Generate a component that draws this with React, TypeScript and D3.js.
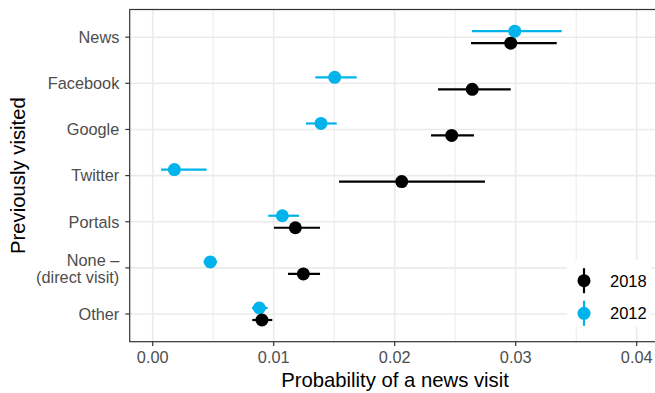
import React, { useEffect, useRef } from "react";
import { select, scaleLinear, scalePoint, range } from "d3";

const categories = ["News", "Facebook", "Google", "Twitter", "Portals", "None –\n(direct visit)", "Other"];
const years = ["2018", "2012"];

// estimate, lower, upper
const est2018 = [0.02959, 0.02641, 0.02471, 0.02058, 0.01179, 0.01245, 0.00903];
const lo2018 = [0.02631, 0.02358, 0.023, 0.0154, 0.01002, 0.01118, 0.00823];
const hi2018 = [0.03339, 0.02959, 0.02655, 0.02746, 0.01383, 0.01383, 0.00988];

const est2012 = [0.02992, 0.01504, 0.01391, 0.00179, 0.01071, 0.00476, 0.00881];
const lo2012 = [0.02639, 0.01344, 0.01267, 0.00069, 0.00955, 0.0042, 0.0082];
const hi2012 = [0.0338, 0.01686, 0.01521, 0.00446, 0.01209, 0.00533, 0.0095];

const xTicks = [0, 0.01, 0.02, 0.03, 0.04];
const xTickLabels = ["0.00", "0.01", "0.02", "0.03", "0.04"];

const colors = { "2018": "#000000", "2012": "#00B4EB" };

function Chart() {
  const svgRef = useRef(null);
  const width = 655,
    height = 393;
  const panel = { left: 129.7, right: 656, top: 9.5, bottom: 341.7 };

  useEffect(() => {
    const svg = select(svgRef.current);
    svg.selectAll("*").remove();
    const font = "'Liberation Sans', Arial, Helvetica, sans-serif";

    const x = scaleLinear().domain([0, 0.04]).range([152.7, 636.7]);
    const y = scalePoint().domain(categories).range([panel.top, panel.bottom]).padding(0.6);

    const g = svg.append("g");
    g.append("rect")
      .attr("x", panel.left)
      .attr("y", panel.top)
      .attr("width", panel.right - panel.left)
      .attr("height", panel.bottom - panel.top)
      .attr("fill", "#fff");

    // minor grid
    const minor = range(0.005, 0.045, 0.01);
    g.selectAll(".minor")
      .data(minor)
      .join("line")
      .attr("x1", (d) => x(d))
      .attr("x2", (d) => x(d))
      .attr("y1", panel.top)
      .attr("y2", panel.bottom)
      .attr("stroke", "#EBEBEB")
      .attr("stroke-width", 1);

    g.selectAll(".vmajor")
      .data(xTicks)
      .join("line")
      .attr("x1", (d) => x(d))
      .attr("x2", (d) => x(d))
      .attr("y1", panel.top)
      .attr("y2", panel.bottom)
      .attr("stroke", "#EBEBEB")
      .attr("stroke-width", 1.6);

    g.selectAll(".hmajor")
      .data(categories)
      .join("line")
      .attr("x1", panel.left)
      .attr("x2", panel.right)
      .attr("y1", (d) => y(d))
      .attr("y2", (d) => y(d))
      .attr("stroke", "#EBEBEB")
      .attr("stroke-width", 1.6);

    const series = [
      { year: "2012", est: est2012, lo: lo2012, hi: hi2012, off: -6 },
      { year: "2018", est: est2018, lo: lo2018, hi: hi2018, off: 6 },
    ];

    series.forEach((s) => {
      const sg = g.append("g");
      sg.selectAll("line")
        .data(categories)
        .join("line")
        .attr("x1", (d, i) => x(s.lo[i]))
        .attr("x2", (d, i) => x(s.hi[i]))
        .attr("y1", (d) => y(d) + s.off)
        .attr("y2", (d) => y(d) + s.off)
        .attr("stroke", colors[s.year])
        .attr("stroke-width", 2.2);
      sg.selectAll("circle")
        .data(categories)
        .join("circle")
        .attr("cx", (d, i) => x(s.est[i]))
        .attr("cy", (d) => y(d) + s.off)
        .attr("r", 6.5)
        .attr("fill", colors[s.year]);
    });

    // legend
    const lg = g.append("g");
    lg.append("rect")
      .attr("x", 567)
      .attr("y", 260)
      .attr("width", 84)
      .attr("height", 67)
      .attr("fill", "#fff");
    years.forEach((yr, i) => {
      const cy = 280.7 + i * 32.6;
      lg.append("line")
        .attr("x1", 584)
        .attr("x2", 584)
        .attr("y1", cy - 12.5)
        .attr("y2", cy + 12.5)
        .attr("stroke", colors[yr])
        .attr("stroke-width", 2.2);
      lg.append("circle").attr("cx", 584).attr("cy", cy).attr("r", 6.5).attr("fill", colors[yr]);
      lg.append("text")
        .attr("x", 610)
        .attr("y", cy + 6)
        .attr("font-family", font)
        .attr("font-size", 16.5)
        .attr("fill", "#000")
        .text(yr);
    });

    // panel border
    g.append("rect")
      .attr("x", panel.left)
      .attr("y", panel.top)
      .attr("width", panel.right - panel.left)
      .attr("height", panel.bottom - panel.top)
      .attr("fill", "none")
      .attr("stroke", "#333333")
      .attr("stroke-width", 1.2);

    // x axis
    xTicks.forEach((t, i) => {
      g.append("line")
        .attr("x1", x(t))
        .attr("x2", x(t))
        .attr("y1", panel.bottom)
        .attr("y2", panel.bottom + 4.4)
        .attr("stroke", "#333333")
        .attr("stroke-width", 1.2);
      g.append("text")
        .attr("x", x(t))
        .attr("y", 363)
        .attr("text-anchor", "middle")
        .attr("font-family", font)
        .attr("font-size", 16.3)
        .attr("fill", "#4D4D4D")
        .text(xTickLabels[i]);
    });

    // y axis
    categories.forEach((c) => {
      const cy = y(c);
      g.append("line")
        .attr("x1", panel.left - 4.4)
        .attr("x2", panel.left)
        .attr("y1", cy)
        .attr("y2", cy)
        .attr("stroke", "#333333")
        .attr("stroke-width", 1.2);
      const lines = c.split("\n");
      const t = g.append("text")
        .attr("text-anchor", "end")
        .attr("font-family", font)
        .attr("font-size", 16.3)
        .attr("fill", "#4D4D4D");
      lines.forEach((ln, j) => {
        const base = lines.length === 1 ? cy + 5.8 : cy - 2.3 + j * 17;
        t.append("tspan").attr("x", 119.3).attr("y", base).text(ln);
      });
    });

    g.append("text")
      .attr("x", 395)
      .attr("y", 386.5)
      .attr("text-anchor", "middle")
      .attr("font-family", font)
      .attr("font-size", 20.3)
      .attr("fill", "#000")
      .text("Probability of a news visit");

    g.append("text")
      .attr("transform", `translate(24.5, ${(panel.top + panel.bottom) / 2}) rotate(-90)`)
      .attr("text-anchor", "middle")
      .attr("font-family", font)
      .attr("font-size", 20.3)
      .attr("fill", "#000")
      .text("Previously visited");
  }, []);

  return <svg ref={svgRef} width={width} height={height} style={{ display: "block" }}></svg>;
}

export default function App() {
  return (
    <div style={{ position: "absolute", left: 0, top: 0 }}>
      <Chart />
    </div>
  );
}
